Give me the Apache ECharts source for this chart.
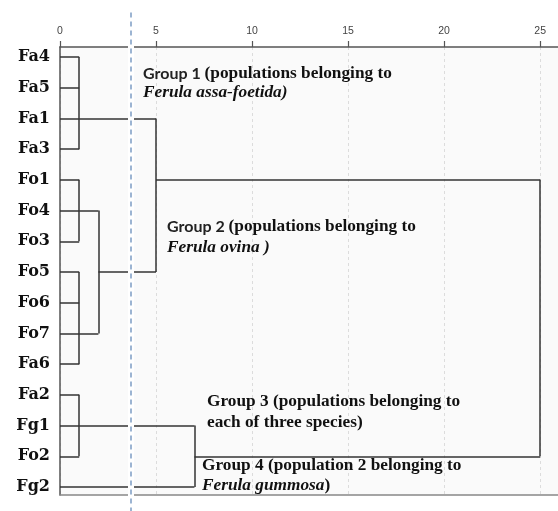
<!DOCTYPE html>
<html>
<head>
<meta charset="utf-8">
<script src="https://cdn.jsdelivr.net/npm/echarts@6/dist/echarts.min.js"></script>
<style>
html,body{margin:0;padding:0;background:#fff;}
#chart{width:558px;height:511px;}
</style>
</head>
<body>
<div id="chart"></div>
<script>
// ---- data ----
const leaves = ['Fa4','Fa5','Fa1','Fa3','Fo1','Fo4','Fo3','Fo5','Fo6','Fo7','Fa6','Fa2','Fg1','Fo2','Fg2'];
// merges (SPSS style): members are leaf names or '#k' = earlier merge k
const mergeMembers = [
  ['Fa4','Fa5','Fa1','Fa3'],
  ['Fo1','Fo4','Fo3'],
  ['Fo5','Fo6','Fo7','Fa6'],
  ['#1','#2'],
  ['#0','#3'],
  ['Fa2','Fg1','Fo2'],
  ['#5','Fg2'],
  ['#4','#6']
];
const mergeHeights = [1, 1, 1, 2, 5, 1, 7, 25];
const mergeRows = ['Fa1','Fo4','Fo7','Fo5','Fo1','Fg1','Fo2', null];
const xTicks = [0, 5, 10, 15, 20, 25];
const cutoff = 3.7;

// ---- build dendrogram segments ----
function node(id) {
  if (id[0] === '#') {
    const k = +id.slice(1);
    return { x: mergeHeights[k], y: leaves.indexOf(mergeRows[k]) };
  }
  return { x: 0, y: leaves.indexOf(id) };
}
const segs = [];
mergeMembers.forEach((mem, i) => {
  const h = mergeHeights[i];
  const ch = mem.map(node);
  ch.forEach(c => segs.push({ coords: [[c.x, c.y], [h, c.y]] }));
  const ys = ch.map(c => c.y);
  segs.push({ coords: [[h, Math.min.apply(null, ys)], [h, Math.max.apply(null, ys)]] });
});

const yMin = -0.326, yMax = 14.26, xMax = 25.93;
const cutSeg = [{ coords: [[cutoff, -1.45], [cutoff, 14.8]] }];

const chart = echarts.init(document.getElementById('chart'));
const serif = 'Liberation Serif';
const rich = {
  s: { fontFamily: 'Lato', fontWeight: 'bold', fontSize: 16, fill: '#222', lineHeight: 20 },
  b: { fontFamily: serif, fontWeight: 'bold', fontSize: 17.3, fill: '#111', lineHeight: 20 },
  i: { fontFamily: serif, fontWeight: 'bold', fontStyle: 'italic', fontSize: 17.3, fill: '#111', lineHeight: 20 }
};
function ann(x, y, text, lh) {
  const r = JSON.parse(JSON.stringify(rich));
  Object.keys(r).forEach(k => r[k].lineHeight = lh);
  return { type: 'text', left: x, top: y, z: 10, style: { text: text, rich: r } };
}

chart.setOption({
  animation: false,
  backgroundColor: '#fff',
  grid: { left: 60, right: -2, top: 47, bottom: 16, show: true, backgroundColor: '#fafafa', borderWidth: 0 },
  xAxis: [{
    type: 'value', position: 'top', min: 0, max: xMax,
    axisLine: { show: true, onZero: false, lineStyle: { color: '#555', width: 1.5 } },
    axisTick: { show: true, length: 6, customValues: xTicks, lineStyle: { color: '#555', width: 1.2 } },
    axisLabel: { customValues: xTicks, margin: 10, fontSize: 10.5, color: '#444', fontFamily: 'Liberation Sans' },
    splitLine: { show: true, lineStyle: { color: '#dcdcdc', type: [3, 3], width: 1 } }
  }, {
    type: 'value', position: 'bottom', min: 0, max: xMax,
    axisLine: { show: true, onZero: false, lineStyle: { color: '#888', width: 1.5 } },
    axisTick: { show: false }, axisLabel: { show: false }, splitLine: { show: false }
  }],
  yAxis: {
    type: 'value', inverse: true, min: yMin, max: yMax,
    axisLine: { show: true, onZero: false, lineStyle: { color: '#555', width: 1.5 } },
    axisTick: { show: false }, splitLine: { show: false },
    axisLabel: {
      customValues: leaves.map((_, i) => i),
      formatter: v => leaves[Math.round(v)],
      fontFamily: 'DejaVu Serif', fontWeight: 'bold', fontSize: 16, color: '#111', margin: 10
    }
  },
  series: [{
    type: 'lines', coordinateSystem: 'cartesian2d', xAxisIndex: 0, yAxisIndex: 0,
    silent: true, z: 2,
    lineStyle: { color: '#333', width: 1.5, opacity: 1 },
    data: segs
  }, {
    type: 'lines', coordinateSystem: 'cartesian2d', xAxisIndex: 0, yAxisIndex: 0,
    silent: true, clip: false, z: 3,
    lineStyle: { color: '#fff', width: 6, opacity: 1 },
    data: cutSeg
  }, {
    type: 'lines', coordinateSystem: 'cartesian2d', xAxisIndex: 0, yAxisIndex: 0,
    silent: true, clip: false, z: 4,
    lineStyle: { color: '#7c9cc4', width: 1.5, type: [5, 4], opacity: 1 },
    data: cutSeg
  }],
  graphic: [
    ann(143, 65, '{s|Group 1 }{b|(populations belonging to}\n{i|Ferula assa-foetida)}', 19),
    ann(167, 218, '{s|Group 2 }{b|(populations belonging to}\n{i|Ferula ovina )}', 21),
    ann(207, 393, '{b|Group 3 (populations belonging to}\n{b|each of three species)}', 21),
    ann(202, 457, '{b|Group 4 (population 2 belonging to}\n{i|Ferula gummosa}{b|)}', 20)
  ]
});
</script>
</body>
</html>
